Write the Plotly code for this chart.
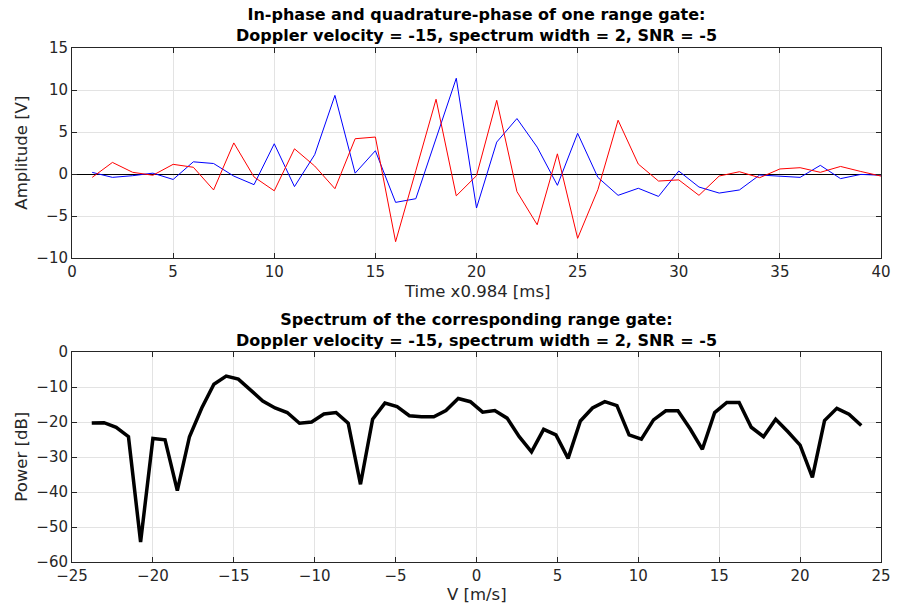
import plotly.graph_objects as go

# ---- data ----
t = list(range(1, 41))
i_channel = [-0.4, 1.38, 0.2, -0.15, 1.15, 0.8, -1.9, 3.7, -0.35, -2.0,
             3.0, 0.95, -1.75, 4.2, 4.4, -8.06, 0.4, 8.9, -2.6, -0.2,
             8.77, -2.1, -6.04, 2.4, -7.66, -1.87, 6.4, 1.18, -0.84, -0.7,
             -2.54, -0.24, 0.27, -0.44, 0.6, 0.75, 0.2, 0.9, 0.3, -0.25]
q_channel = [0.19, -0.4, -0.2, 0.1, -0.65, 1.45, 1.25, -0.25, -1.27, 3.6,
             -1.5, 2.3, 9.36, 0.1, 2.77, -3.38, -2.94, 4.2, 11.4, -4.05,
             3.8, 6.6, 3.2, -1.35, 4.84, -0.4, -2.54, -1.7, -2.67, 0.35,
             -1.55, -2.27, -1.9, -0.12, -0.3, -0.4, 1.03, -0.55, -0.05, -0.15]

velocity = [-23.78, -23.02, -22.27, -21.51, -20.76, -20.0, -19.25, -18.49,
            -17.74, -16.98, -16.23, -15.47, -14.72, -13.96, -13.21, -12.45,
            -11.7, -10.94, -10.19, -9.43, -8.68, -7.93, -7.17, -6.42,
            -5.66, -4.91, -4.15, -3.4, -2.64, -1.89, -1.13, -0.38,
            0.38, 1.13, 1.89, 2.64, 3.4, 4.15, 4.91, 5.66,
            6.42, 7.17, 7.93, 8.68, 9.43, 10.19, 10.94, 11.7,
            12.45, 13.21, 13.96, 14.72, 15.47, 16.23, 16.98, 17.74,
            18.49, 19.25, 20.0, 20.76, 21.51, 22.27, 23.02, 23.78]
power_db = [-20.3, -20.2, -21.5, -24.2, -54.3, -24.7, -25.1, -39.6,
            -24.2, -16.0, -9.2, -6.9, -7.75, -10.8, -14.0, -16.0,
            -17.3, -20.35, -20.0, -17.7, -17.3, -20.35, -37.8, -19.2,
            -14.6, -15.6, -18.2, -18.5, -18.5, -16.7, -13.3, -14.2,
            -17.2, -16.7, -18.9, -24.2, -28.5, -22.1, -23.7, -30.4,
            -19.7, -16.0, -14.2, -15.3, -23.7, -24.9, -19.4, -16.8,
            -16.8, -22.0, -27.8, -17.3, -14.4, -14.4, -21.5, -24.2,
            -19.2, -22.8, -26.6, -35.8, -19.6, -16.1, -17.8, -21.0]

top_title = "In-phase and quadrature-phase of one range gate:<br>Doppler velocity = -15, spectrum width = 2, SNR = -5"
bot_title = "Spectrum of the corresponding range gate:<br>Doppler velocity = -15, spectrum width = 2, SNR = -5"

W, H = 903, 605
ML, MR, MT, MB = 72, 12, 48, 43
PH = H - MT - MB

def fy(py):
    return (H - MB - py) / PH

FONT = "DejaVu Sans, Liberation Sans, Arial, sans-serif"
TXT = "#262626"

fig = go.Figure()
fig.add_trace(go.Scatter(x=t, y=q_channel, mode="lines",
                         line=dict(color="#0000ff", width=1), xaxis="x", yaxis="y"))
fig.add_trace(go.Scatter(x=t, y=i_channel, mode="lines",
                         line=dict(color="#ff0000", width=1), xaxis="x", yaxis="y"))
fig.add_trace(go.Scatter(x=velocity, y=power_db, mode="lines",
                         line=dict(color="#000000", width=3.5), xaxis="x2", yaxis="y2"))

axis_common = dict(showline=True, linecolor=TXT, linewidth=1, mirror="ticks",
                   ticks="inside", ticklen=5, tickcolor=TXT, tickwidth=1,
                   showgrid=True, gridcolor="#e3e3e3", gridwidth=1,
                   tickfont=dict(family=FONT, size=15, color=TXT))

fig.update_layout(
    width=W, height=H,
    margin=dict(l=ML, r=MR, t=MT, b=MB),
    paper_bgcolor="white", plot_bgcolor="white",
    showlegend=False,
    xaxis=dict(domain=[0, 1], range=[0, 40], tickvals=[0, 5, 10, 15, 20, 25, 30, 35, 40],
               anchor="y", zeroline=False, **axis_common),
    yaxis=dict(domain=[fy(258), 1], range=[-10, 15], tickvals=[-10, -5, 0, 5, 10, 15],
               anchor="x", zeroline=True, zerolinecolor="#000000", zerolinewidth=1,
               **axis_common),
    xaxis2=dict(domain=[0, 1], range=[-25, 25], tickvals=[-25, -20, -15, -10, -5, 0, 5, 10, 15, 20, 25],
                anchor="y2", zeroline=False, **axis_common),
    yaxis2=dict(domain=[0, fy(352)], range=[-60, 0], tickvals=[-60, -50, -40, -30, -20, -10, 0],
                anchor="x2", zeroline=False, **axis_common),
)

def ann(text, x, y, size, bold=False, angle=0):
    fig.add_annotation(text=(f"<b>{text}</b>" if bold else text), xref="paper", yref="paper",
                       x=x, y=y, showarrow=False, textangle=angle,
                       xanchor="center", yanchor="middle",
                       font=dict(family=FONT, size=size, color="#000000" if bold else TXT))

cx = 0.5
ann(top_title, cx, fy(25), 16, bold=True)
ann(bot_title, cx, fy(330), 16, bold=True)
ann("Time x0.984 [ms]", cx, fy(291), 16.5)
ann("V [m/s]", cx, fy(594), 16.5)

def ann_px(text, px, py, size, angle=0):
    fig.add_annotation(text=text, xref="paper", yref="paper",
                       x=(px - ML) / (W - ML - MR), y=fy(py), showarrow=False,
                       textangle=angle, xanchor="center", yanchor="middle",
                       font=dict(family=FONT, size=size, color=TXT))

ann_px("Amplitude [V]", 20, 153, 16.5, angle=-90)
ann_px("Power [dB]", 20, 457, 16.5, angle=-90)

fig.write_html("out.html")
